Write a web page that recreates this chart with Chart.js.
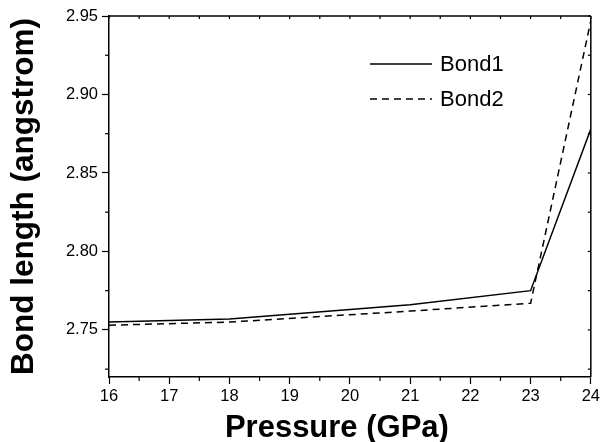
<!DOCTYPE html>
<html>
<head>
<meta charset="utf-8">
<script src="https://cdn.jsdelivr.net/npm/chart.js@4.4.1/dist/chart.umd.min.js"></script>
<style>
  body { margin: 0; background: #fff; }
  #wrap { width: 603px; height: 442px; position: relative; }
</style>
</head>
<body>
<div id="wrap"><canvas id="bondChart"></canvas></div>
<script>
// Data
var pressure = [16, 18, 21, 23, 24];
var bond1 = [2.755, 2.757, 2.766, 2.775, 2.878];
var bond2 = [2.753, 2.755, 2.762, 2.767, 2.947];

// Tick positions
var xMajorTicks = [16, 17, 18, 19, 20, 21, 22, 23, 24];
var xMinorTicks = [16.5, 17.5, 18.5, 19.5, 20.5, 21.5, 22.5, 23.5];
var yMajorTicks = [2.75, 2.80, 2.85, 2.90, 2.95];
var yMinorTicks = [2.725, 2.775, 2.825, 2.875, 2.925];

var xTitle = "Pressure (GPa)";
var yTitle = "Bond length (angstrom)";

var FONT = "'Liberation Sans', Arial, sans-serif";

function toPoints(xs, ys) {
    return xs.map(function (x, i) { return { x: x, y: ys[i] }; });
}

// minor ticks, mirrored ticks on top/right, frame, x title and the in-plot legend
var framePlugin = {
    id: "framePlugin",
    afterDraw: function (chart) {
        var ctx = chart.ctx;
        var a = chart.chartArea;
        var x = chart.scales.x;
        var y = chart.scales.y;

        function seg(x1, y1, x2, y2) {
            ctx.beginPath();
            ctx.moveTo(x1, y1);
            ctx.lineTo(x2, y2);
            ctx.stroke();
        }

        ctx.save();
        ctx.strokeStyle = "#000";
        ctx.lineWidth = 1.2;

        xMinorTicks.forEach(function (v) {
            var p = x.getPixelForValue(v);
            seg(p, a.bottom, p, a.bottom + 4);
        });
        yMinorTicks.forEach(function (v) {
            var p = y.getPixelForValue(v);
            seg(a.left - 4, p, a.left, p);
        });
        xMajorTicks.concat(xMinorTicks).forEach(function (v) {
            var p = x.getPixelForValue(v);
            seg(p, a.top, p, a.top + 3);
        });
        yMajorTicks.concat(yMinorTicks).forEach(function (v) {
            var p = y.getPixelForValue(v);
            seg(a.right - 3, p, a.right, p);
        });

        // top and right frame lines
        ctx.lineWidth = 1.5;
        seg(a.left, a.top, a.right, a.top);
        seg(a.right, a.top, a.right, a.bottom);

        // x axis title (sits a little left of the plot centre in the original)
        ctx.fillStyle = "#000";
        ctx.font = "bold 31px " + FONT;
        ctx.textAlign = "center";
        ctx.textBaseline = "alphabetic";
        ctx.fillText(xTitle, a.left + (a.right - a.left) * 0.473, 437);

        // legend
        ctx.font = "22px " + FONT;
        ctx.textAlign = "left";
        ctx.textBaseline = "middle";
        chart.data.datasets.forEach(function (ds, i) {
            var ly = 64 + i * 35;
            ctx.lineWidth = ds.borderWidth;
            ctx.setLineDash(ds.borderDash || []);
            seg(370, ly, 432, ly);
            ctx.setLineDash([]);
            ctx.fillText(ds.label, 440, ly + 1);
        });
        ctx.restore();
    }
};

var ctx = document.getElementById("bondChart").getContext("2d");
var bondChart = new Chart(ctx, {
    type: "line",
    data: {
        datasets: [{
            label: "Bond1",
            data: toPoints(pressure, bond1),
            borderColor: "#000",
            borderWidth: 1.5,
            pointRadius: 0,
            tension: 0
        }, {
            label: "Bond2",
            data: toPoints(pressure, bond2),
            borderColor: "#000",
            borderWidth: 1.5,
            borderDash: [7, 5],
            pointRadius: 0,
            tension: 0
        }]
    },
    options: {
        responsive: true,
        maintainAspectRatio: false,
        animation: false,
        layout: { padding: { top: 16, right: 10, left: 0, bottom: 0 } },
        plugins: {
            legend: { display: false },
            tooltip: { enabled: false }
        },
        scales: {
            x: {
                type: "linear",
                min: 16,
                max: 24,
                afterBuildTicks: function (s) {
                    s.ticks = xMajorTicks.map(function (v) { return { value: v }; });
                },
                afterFit: function (s) { s.height = 65; },
                ticks: {
                    color: "#000",
                    padding: 3,
                    maxRotation: 0,
                    font: { family: FONT, size: 16.5 },
                    callback: function (v) { return String(v); }
                },
                grid: {
                    drawOnChartArea: false,
                    color: "#000",
                    tickLength: 7,
                    tickWidth: 1.2
                },
                border: { color: "#000", width: 1.5 },
                title: { display: false }
            },
            y: {
                min: 2.72,
                max: 2.95,
                afterBuildTicks: function (s) {
                    s.ticks = yMajorTicks.map(function (v) { return { value: v }; });
                },
                afterFit: function (s) { s.width = 109; },
                ticks: {
                    color: "#000",
                    padding: 4,
                    font: { family: FONT, size: 16.5 },
                    callback: function (v) { return Number(v).toFixed(2); }
                },
                grid: {
                    drawOnChartArea: false,
                    color: "#000",
                    tickLength: 7,
                    tickWidth: 1.2
                },
                border: { color: "#000", width: 1.5 },
                title: {
                    display: true,
                    text: yTitle,
                    color: "#000",
                    padding: { top: 9, bottom: 0 },
                    font: { family: FONT, size: 31.5, weight: "bold", lineHeight: 1 }
                }
            }
        }
    },
    plugins: [framePlugin]
});
</script>
</body>
</html>
